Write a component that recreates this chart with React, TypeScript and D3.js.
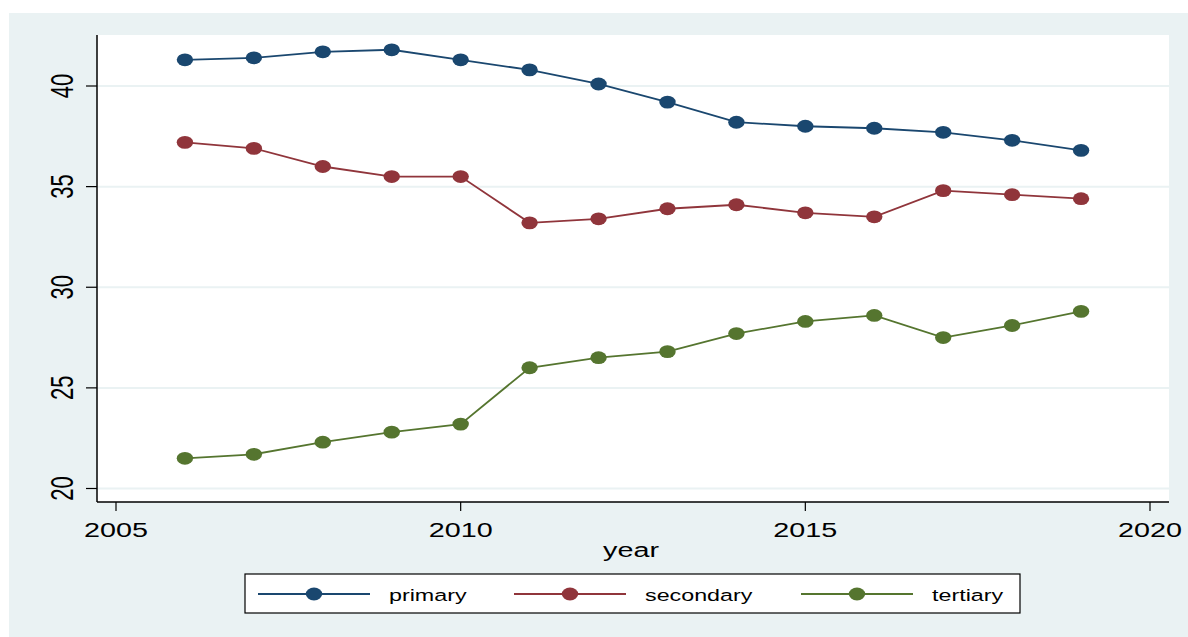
import * as d3 from 'd3';
import React, { useEffect, useRef } from 'react';

const years = [2006, 2007, 2008, 2009, 2010, 2011, 2012, 2013, 2014, 2015, 2016, 2017, 2018, 2019];
const primary = [41.3, 41.4, 41.7, 41.8, 41.3, 40.8, 40.1, 39.2, 38.2, 38.0, 37.9, 37.7, 37.3, 36.8];
const secondary = [37.2, 36.9, 36.0, 35.5, 35.5, 33.2, 33.4, 33.9, 34.1, 33.7, 33.5, 34.8, 34.6, 34.4];
const tertiary = [21.5, 21.7, 22.3, 22.8, 23.2, 26.0, 26.5, 26.8, 27.7, 28.3, 28.6, 27.5, 28.1, 28.8];
const xTicks = [2005, 2010, 2015, 2020];
const yTicks = [20, 25, 30, 35, 40];

interface Series {
  name: string;
  values: number[];
  color: string;
}

const series: Series[] = [
  { name: 'primary', values: primary, color: '#1a476f' },
  { name: 'secondary', values: secondary, color: '#90353b' },
  { name: 'tertiary', values: tertiary, color: '#55752f' },
];

const width = 1188;
const height = 637;
const plot = { left: 97, right: 1169, top: 35, bottom: 502 };
const bg = '#eaf2f3';
const font = '"Liberation Sans", Arial, sans-serif';
const stretch = 1.37;

const App: React.FC = () => {
  const svgRef = useRef<SVGSVGElement>(null);
  useEffect(() => {
    if (!svgRef.current) return;
    const svg = d3.select(svgRef.current);
    svg.selectAll('*').remove();

    const x = d3.scaleLinear().domain([2005, 2020]).range([116, 1150]);
    const y = d3.scaleLinear().domain([20, 40]).range([488.5, 86]);

    // outer background
    svg.append('rect').attr('x', 9).attr('y', 13).attr('width', width - 9).attr('height', height - 13).attr('fill', bg);
    // plot region
    svg
      .append('rect')
      .attr('x', plot.left)
      .attr('y', plot.top)
      .attr('width', plot.right - plot.left)
      .attr('height', plot.bottom - plot.top)
      .attr('fill', '#ffffff');

    // grid lines
    svg
      .selectAll('.grid')
      .data(yTicks)
      .enter()
      .append('line')
      .attr('x1', plot.left)
      .attr('x2', plot.right)
      .attr('y1', (d) => y(d))
      .attr('y2', (d) => y(d))
      .attr('stroke', bg)
      .attr('stroke-width', 2);

    // axes
    svg.append('line').attr('x1', plot.left).attr('x2', plot.left).attr('y1', plot.top).attr('y2', plot.bottom)
      .attr('stroke', '#000').attr('stroke-width', 1.5);
    svg.append('line').attr('x1', plot.left).attr('x2', plot.right).attr('y1', plot.bottom).attr('y2', plot.bottom)
      .attr('stroke', '#000').attr('stroke-width', 1.5);

    // y ticks + labels (rotated, like stata)
    yTicks.forEach((t) => {
      svg.append('line').attr('x1', 86).attr('x2', plot.left).attr('y1', y(t)).attr('y2', y(t))
        .attr('stroke', '#000').attr('stroke-width', 1.2);
      svg
        .append('text')
        .attr('transform', `translate(73,${y(t)}) scale(1.4,1) rotate(-90)`)
        .attr('text-anchor', 'middle')
        .attr('font-family', font)
        .attr('font-size', 22)
        .attr('fill', '#000')
        .text(t);
    });

    // x ticks + labels
    xTicks.forEach((t) => {
      svg.append('line').attr('x1', x(t)).attr('x2', x(t)).attr('y1', plot.bottom).attr('y2', 511)
        .attr('stroke', '#000').attr('stroke-width', 1.2);
      svg
        .append('text')
        .attr('transform', `translate(${x(t)},537) scale(${stretch},1)`)
        .attr('text-anchor', 'middle')
        .attr('font-family', font)
        .attr('font-size', 21)
        .attr('fill', '#000')
        .text(t);
    });

    svg
      .append('text')
      .attr('transform', `translate(631,557) scale(${stretch},1)`)
      .attr('text-anchor', 'middle')
      .attr('font-family', font)
      .attr('font-size', 21)
      .attr('fill', '#000')
      .text('year');

    // series
    const line = d3
      .line<number>()
      .x((_, i) => x(years[i]))
      .y((d) => y(d));
    series.forEach((s) => {
      svg.append('path').attr('d', line(s.values)).attr('fill', 'none').attr('stroke', s.color).attr('stroke-width', 1.8);
      svg
        .selectAll(null)
        .data(s.values)
        .enter()
        .append('ellipse')
        .attr('cx', (_, i) => x(years[i]))
        .attr('cy', (d) => y(d))
        .attr('rx', 8.2)
        .attr('ry', 6.4)
        .attr('fill', s.color);
    });

    // legend
    const legend = svg.append('g');
    legend.append('rect').attr('x', 245).attr('y', 574).attr('width', 775).attr('height', 39)
      .attr('fill', '#fff').attr('stroke', '#000').attr('stroke-width', 1.2);
    const legendX = [258, 514, 801];
    series.forEach((s, i) => {
      const lx = legendX[i];
      legend.append('line').attr('x1', lx).attr('x2', lx + 112).attr('y1', 594).attr('y2', 594)
        .attr('stroke', s.color).attr('stroke-width', 1.8);
      legend.append('ellipse').attr('cx', lx + 56).attr('cy', 594).attr('rx', 8.2).attr('ry', 6.4).attr('fill', s.color);
      legend
        .append('text')
        .attr('transform', `translate(${lx + 131},601) scale(${stretch},1)`)
        .attr('font-family', font)
        .attr('font-size', 17)
        .attr('fill', '#000')
        .text(s.name);
    });
  }, []);
  return (
    <svg
      ref={svgRef}
      width={width}
      height={height}
      style={{ position: 'fixed', left: 0, top: 0, background: '#fff' }}
    />
  );
};

export default App;
